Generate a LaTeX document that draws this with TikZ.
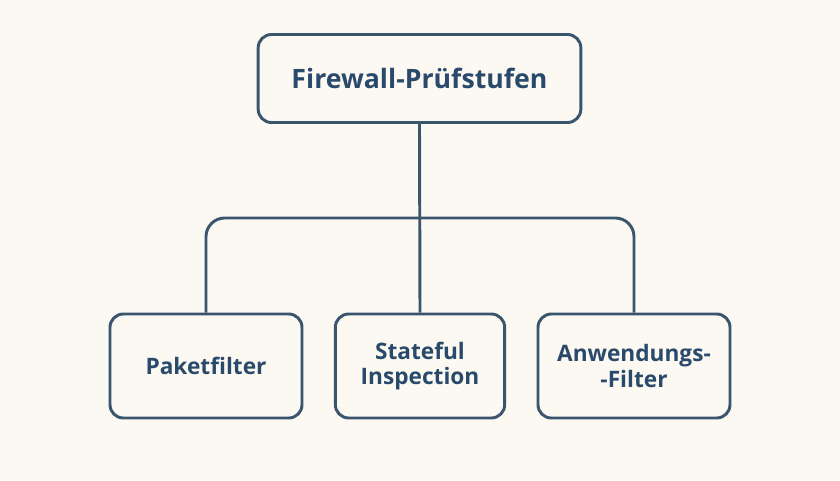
\documentclass[tikz,border=0pt]{standalone}
\usepackage{fontspec}
\setmainfont{Open Sans}
\begin{document}
\begin{tikzpicture}[x=0.75pt,y=-0.75pt,
  line width=2.2pt,
  ln/.style={draw=lc, rounded corners=14pt},
  box/.style={draw=lc, fill=bg, rounded corners=10pt, line width=2.2pt, text=tc, font=\fontsize{17}{19}\selectfont\bfseries, align=center, inner sep=0pt}]
\definecolor{bg}{HTML}{FCF9F3}
\definecolor{lc}{HTML}{3A566F}
\definecolor{tc}{HTML}{2A4A6C}
\fill[bg] (0,0) rectangle (840,480);
\useasboundingbox (0,0) rectangle (840,480);
\node[box, minimum width=242pt, minimum height=66pt, font=\fontsize{20}{22}\selectfont\bfseries] (top) at (419.5,78.5) {Firewall-Prüfstufen};
\node[box, minimum width=144pt, minimum height=78pt] (a) at (206,366) {Paketfilter};
\node[box, minimum width=127pt, minimum height=78pt] (b) at (420,366) {Stateful\\Inspection};
\node[box, minimum width=144pt, minimum height=78pt] (c) at (634,366) {Anwendungs-\\-Filter};
\coordinate (j) at (420,218);
\draw[lc] (top.south) -- (b.north);
\draw[ln] (a.north) |- (j) -| (c.north);
\end{tikzpicture}
\end{document}
